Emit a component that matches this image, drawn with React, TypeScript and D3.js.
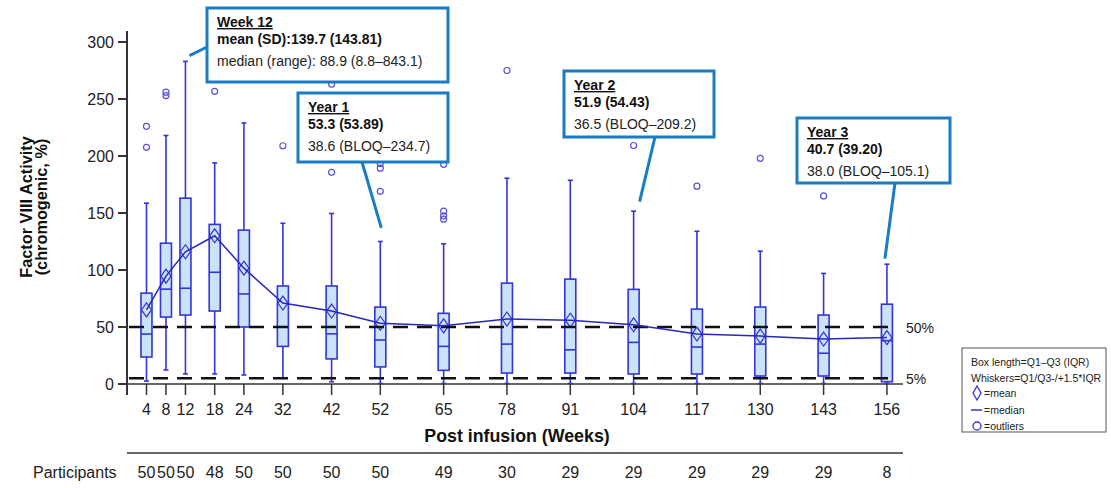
import React from 'react';
import * as d3 from 'd3';

// weeks after infusion
const weeks = [4, 8, 12, 18, 24, 32, 42, 52, 65, 78, 91, 104, 117, 130, 143, 156];
const q1 = [23.7, 58.7, 60.5, 64, 50, 33, 22, 15, 12, 9.6, 9.6, 8.8, 8.8, 7, 7, 2];
const medians = [43.8, 83.2, 84, 98, 79, 50, 44, 38.6, 33, 35, 30, 36.5, 32.4, 35, 27, 38];
const q3 = [79.7, 123.5, 163, 140, 135, 86, 86, 67.5, 62, 88.5, 92, 83, 65.7, 67.5, 60.5, 70];
const means = [65, 94.6, 116, 130, 101.6, 71, 64, 53.3, 51, 57, 56, 51.9, 43.8, 42, 39.4, 40.7];
const whiskerLo = [2.6, 12.3, 8.8, 8.8, 7.9, 5, 2, 0.5, 0.5, 0.5, 0.5, 0.5, 0.5, 0.5, 0.5, 0.5];
const whiskerHi = [158.6, 218, 283, 194, 229, 141, 149.6, 125, 123, 180.5, 178.7, 151.6, 134, 116.5, 97, 105.1];
const participants = [50, 50, 50, 48, 50, 50, 50, 50, 49, 30, 29, 29, 29, 29, 29, 8];

const outlierWeeks = [4, 4, 8, 8, 18, 32, 42, 42, 52, 52, 52, 65, 65, 65, 65, 78, 104, 117, 130, 143];
const outlierValues = [226, 207.6, 256, 253, 256.7, 209, 263, 185.7, 193.5, 189.3, 169, 192.7, 151.6, 147.5, 144.6, 275, 209.2, 173.5, 198, 165];

const yTicks = [0, 50, 100, 150, 200, 250, 300];
const refLines = [50, 5];
const refLabels = ['50%', '5%'];

const calloutTitles = ['Week 12', 'Year 1', 'Year 2', 'Year 3'];
const calloutMeans = ['mean (SD):139.7 (143.81)', '53.3 (53.89)', '51.9 (54.43)', '40.7 (39.20)'];
const calloutMedians = ['median (range): 88.9 (8.8\u2013843.1)', '38.6 (BLOQ\u2013234.7)', '36.5 (BLOQ\u2013209.2)', '38.0 (BLOQ\u2013105.1)'];
const calloutWeeks = [12, 52, 104, 156];
const calloutTargets = [288, 137, 160, 110];

const legendLines = ['Box length=Q1\u2013Q3 (IQR)', 'Whiskers=Q1/Q3-/+1.5*IQR'];
const legendMarks = ['=mean', '=median', '=outliers'];

const W = 1111;
const H = 488;
const FONT = '"Liberation Sans", Arial, Helvetica, sans-serif';
const BOX_STROKE = '#3434d8';
const BOX_FILL = '#cbe3f9';
const LINE_COLOR = '#2727b8';
const CALLOUT = '#1b7bc3';

// callout boxes [x, y, w, h], pointer start [x, y]
const calloutBoxes = [
  [207, 8, 241, 74],
  [298, 93, 150, 69],
  [564, 71, 150, 66],
  [797, 118, 153, 65],
];
const pointerStarts = [
  [207, 47],
  [362, 162],
  [655, 137],
  [895, 183],
];
const pointerShift = [4, 1, 6, -2];

export default function App() {
  const x = d3.scaleLinear().domain([0, 159.3]).range([127, 903]);
  const y = d3.scaleLinear().domain([0, 300]).range([384, 42]);
  const bw = 11;

  const meanLine = d3
    .line<number>()
    .x((d, i) => x(weeks[i]))
    .y((d) => y(d))(means);

  return (
    <svg
      width={W}
      height={H}
      style={{ position: 'absolute', left: 0, top: 0, background: '#fff' }}
      fontFamily={FONT}
    >
      {/* y axis */}
      <line x1={127} x2={127} y1={31} y2={395} stroke="#333" strokeWidth={2} />
      {yTicks.map((t) => (
        <g key={t}>
          <line x1={118} x2={127} y1={y(t)} y2={y(t)} stroke="#333" strokeWidth={2} />
          <text x={114} y={y(t)} dy="0.35em" textAnchor="end" fontSize={16} fill="#222">
            {t}
          </text>
        </g>
      ))}
      <text
        transform={`translate(32,207) rotate(-90)`}
        textAnchor="middle"
        fontSize={16.3}
        fontWeight="bold"
        fill="#111"
      >
        Factor VIII Activity
      </text>
      <text
        transform={`translate(47,207) rotate(-90)`}
        textAnchor="middle"
        fontSize={16.3}
        fontWeight="bold"
        fill="#111"
      >
        (chromogenic, %)
      </text>

      {/* x axis */}
      <line x1={127} x2={903} y1={y(0)} y2={y(0)} stroke="#333" strokeWidth={1.5} />
      {weeks.map((w) => (
        <g key={w}>
          <line x1={x(w)} x2={x(w)} y1={y(0)} y2={395} stroke="#333" strokeWidth={1.5} />
          <text x={x(w)} y={415} textAnchor="middle" fontSize={16} fill="#222">
            {w}
          </text>
        </g>
      ))}
      <text x={517} y={442} textAnchor="middle" fontSize={17.8} fontWeight="bold" fill="#111">
        Post infusion (Weeks)
      </text>

      {/* participants row */}
      <line x1={127} x2={903} y1={453} y2={453} stroke="#333" strokeWidth={1.5} />
      <text x={33} y={478} fontSize={16} fill="#222">
        Participants
      </text>
      {participants.map((p, i) => (
        <text key={i} x={x(weeks[i])} y={478} textAnchor="middle" fontSize={16} fill="#222">
          {p}
        </text>
      ))}

      {/* boxes */}
      {weeks.map((w, i) => {
        const cx = x(w);
        const my = y(means[i]);
        return (
          <g key={w} stroke={BOX_STROKE} strokeWidth={1.6}>
            <line x1={cx} x2={cx} y1={y(whiskerLo[i])} y2={y(q1[i])} />
            <line x1={cx} x2={cx} y1={y(q3[i])} y2={y(whiskerHi[i])} />
            <line x1={cx - 2.5} x2={cx + 2.5} y1={y(whiskerLo[i])} y2={y(whiskerLo[i])} />
            <line x1={cx - 2.5} x2={cx + 2.5} y1={y(whiskerHi[i])} y2={y(whiskerHi[i])} />
            <rect
              x={cx - bw / 2}
              y={y(q3[i])}
              width={bw}
              height={y(q1[i]) - y(q3[i])}
              fill={BOX_FILL}
            />
            <line x1={cx - bw / 2} x2={cx + bw / 2} y1={y(medians[i])} y2={y(medians[i])} />
            <path
              d={`M${cx},${my - 7}L${cx + 5},${my}L${cx},${my + 7}L${cx - 5},${my}Z`}
              fill="none"
              strokeWidth={1.2}
            />
          </g>
        );
      })}

      {/* outliers */}
      {outlierWeeks.map((w, i) => (
        <circle
          key={i}
          cx={x(w)}
          cy={y(outlierValues[i])}
          r={3}
          fill="none"
          stroke="#5a52d6"
          strokeWidth={1.2}
        />
      ))}

      {/* reference lines */}
      {refLines.map((v, i) => (
        <g key={v}>
          <line
            x1={129}
            x2={895}
            y1={y(v)}
            y2={y(v)}
            stroke="#111"
            strokeWidth={2.6}
            strokeDasharray="15 9"
          />
          <text x={906} y={y(v) + 6} fontSize={14} fill="#222">
            {refLabels[i]}
          </text>
        </g>
      ))}

      {/* mean line */}
      <path d={meanLine || ''} fill="none" stroke={LINE_COLOR} strokeWidth={1.5} />

      {/* callouts */}
      {calloutTitles.map((t, i) => {
        const [bx, by, bwid, bh] = calloutBoxes[i];
        const [px, py] = pointerStarts[i];
        const tx = x(calloutWeeks[i]) + pointerShift[i];
        const ty = y(calloutTargets[i]);
        return (
          <g key={t}>
            <line x1={px} y1={py} x2={tx} y2={ty} stroke={CALLOUT} strokeWidth={3} />
            <rect
              x={bx}
              y={by}
              width={bwid}
              height={bh}
              fill="#fff"
              stroke={CALLOUT}
              strokeWidth={3}
            />
            <text
              x={bx + 10}
              y={by + 19}
              fontSize={14}
              fontWeight="bold"
              fill="#111"
              textDecoration="underline"
            >
              {t}
            </text>
            <text x={bx + 10} y={by + 36} fontSize={14} fontWeight="bold" fill="#111">
              {calloutMeans[i]}
            </text>
            <text x={bx + 10} y={by + 58} fontSize={14} fill="#222">
              {calloutMedians[i]}
            </text>
          </g>
        );
      })}

      {/* legend */}
      <rect x={962} y={348} width={144} height={84} fill="#fff" stroke="#555" strokeWidth={1} />
      {legendLines.map((l, i) => (
        <text key={l} x={971} y={366 + i * 16} fontSize={10.5} fill="#222">
          {l}
        </text>
      ))}
      <path d="M977,386L981,393L977,400L973,393Z" fill="none" stroke={BOX_STROKE} strokeWidth={1.3} />
      <line x1={971} x2={982} y1={410} y2={410} stroke={BOX_STROKE} strokeWidth={1.5} />
      <circle cx={977} cy={426} r={4} fill="none" stroke={BOX_STROKE} strokeWidth={1.3} />
      {legendMarks.map((m, i) => (
        <text key={m} x={984} y={397 + i * 16.5} fontSize={10.5} fill="#222">
          {m}
        </text>
      ))}
    </svg>
  );
}
